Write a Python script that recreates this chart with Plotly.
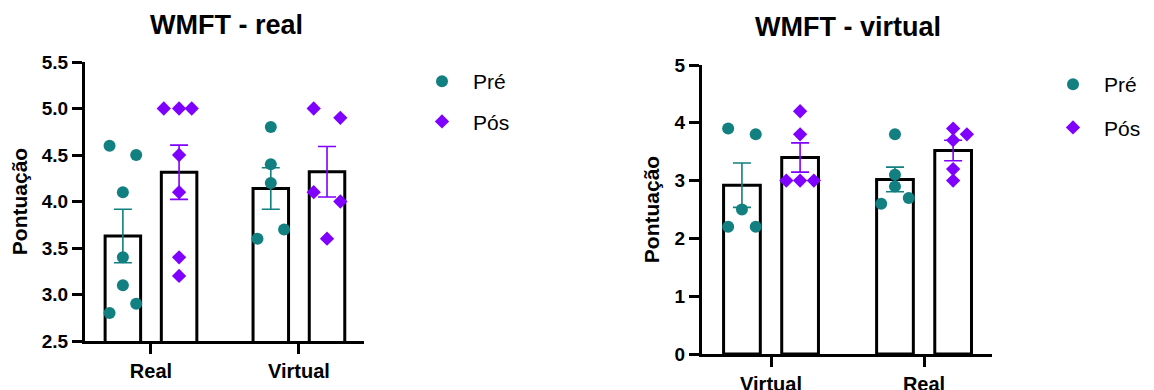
import numpy as np
import plotly.graph_objects as go

# ---------------- data ----------------
left_title = "WMFT - real"
right_title = "WMFT - virtual"
y_label = "Pontuação"
series_names = ["Pré", "Pós"]

left_categories = ["Real", "Virtual"]
left_pre = [[4.6, 4.5, 4.1, 3.4, 3.1, 2.9, 2.8],
            [4.8, 4.4, 4.2, 3.7, 3.6]]
left_pos = [[5.0, 5.0, 5.0, 4.5, 4.1, 3.4, 3.2],
            [5.0, 4.9, 4.1, 4.0, 3.6]]
left_ticks = [2.5, 3.0, 3.5, 4.0, 4.5, 5.0, 5.5]

right_categories = ["Virtual", "Real"]
right_pre = [[3.9, 3.8, 2.5, 2.2, 2.2],
             [3.8, 3.1, 2.9, 2.7, 2.6]]
right_pos = [[4.2, 3.8, 3.0, 3.0, 3.0],
             [3.9, 3.8, 3.7, 3.2, 3.0]]
right_ticks = [0, 1, 2, 3, 4, 5]

# ---------------- styling (jitter of scatter points, in jitter steps) ----------------
left_pre_jit = [[-1, 1, 0, 0, 0, 1, -1], [0, 0, 0, 1, -1]]
left_pos_jit = [[-1.15, 0, 0.95, 0, 0, 0, 0], [-1, 1, -1, 1, 0]]
right_pre_jit = [[-1, 1, 0, -1, 1], [0, 0, 0, 1, -1]]
right_pos_jit = [[0, 0, -1, 0, 1], [0, 1, 0, 0, 0]]

TEAL = "#127f80"
PURPLE = "#7f00ff"
FONT = "Liberation Sans, Arial, sans-serif"
OFF = 0.19
BW = 0.24
JSTEP = 0.09

fig = go.Figure()


def sem(v):
    v = np.asarray(v, dtype=float)
    return float(np.std(v, ddof=1) / np.sqrt(len(v)))


def add_panel(xa, ya, cats, pre, pos, pre_j, pos_j, legend):
    for si, (data, jit, color, sym, msize, off) in enumerate([
        (pre, pre_j, TEAL, "circle", 12, -OFF),
        (pos, pos_j, PURPLE, "diamond", 11, OFF),
    ]):
        xs = [i + off for i in range(len(cats))]
        means = [float(np.mean(d)) for d in data]
        errs = [sem(d) for d in data]
        fig.add_trace(go.Bar(
            x=xs, y=means, width=BW, xaxis=xa, yaxis=ya,
            marker=dict(color="white", line=dict(color="black", width=3)),
            error_y=dict(type="data", array=errs, visible=True, color=color,
                         thickness=1.6, width=9),
            showlegend=False, hoverinfo="skip",
        ))
        px, py = [], []
        for i, d in enumerate(data):
            for v, j in zip(d, jit[i]):
                px.append(i + off + j * JSTEP)
                py.append(v)
        fig.add_trace(go.Scatter(
            x=px, y=py, mode="markers", xaxis=xa, yaxis=ya,
            marker=dict(color=color, symbol=sym, size=msize, line=dict(width=0)),
            name=series_names[si], legend=legend, legendgroup=legend + str(si),
            showlegend=True,
        ))


add_panel("x", "y", left_categories, left_pre, left_pos, left_pre_jit, left_pos_jit, "legend")
add_panel("x2", "y2", right_categories, right_pre, right_pos, right_pre_jit, right_pos_jit, "legend2")

W, H = 1154, 390
O = 8  # page body margin offset


def px_x(x):
    return (x - O) / W


def px_y(y):
    return (H - (y - O)) / H


axis_common = dict(showgrid=False, zeroline=False, showline=True, linecolor="black",
                   linewidth=3, ticks="outside", ticklen=10, tickwidth=3,
                   tickcolor="black", automargin=False)
yfont = dict(family=FONT, size=19, color="black", weight="bold")
xfont = dict(family=FONT, size=20, color="black", weight="bold")
tfont = dict(family=FONT, size=21, color="black", weight="bold")

fig.update_layout(
    width=W, height=H, autosize=False,
    margin=dict(l=0, r=0, t=0, b=0, pad=0),
    paper_bgcolor="white", plot_bgcolor="white",
    barmode="overlay",
    font=dict(family=FONT, color="black"),
    xaxis=dict(domain=[px_x(85), px_x(364)], range=[-0.446, 1.44],
               tickvals=[0, 1], ticktext=left_categories, anchor="y",
               tickfont=xfont, **axis_common),
    yaxis=dict(domain=[px_y(341), px_y(62)], range=[2.5, 5.5],
               tickvals=left_ticks, ticktext=[f"{t:.1f}" for t in left_ticks],
               anchor="x", tickfont=yfont,
               title=dict(text=y_label, standoff=10, font=tfont),
               **axis_common),
    xaxis2=dict(domain=[px_x(702), px_x(992)], range=[-0.451, 1.444],
                tickvals=[0, 1], ticktext=right_categories, anchor="y2",
                tickfont=xfont, **axis_common),
    yaxis2=dict(domain=[px_y(354), px_y(65)], range=[0, 5],
                tickvals=right_ticks, anchor="x2", tickfont=yfont,
                title=dict(text=y_label, standoff=10, font=tfont),
                **axis_common),
    legend=dict(x=px_x(411), y=px_y(61), xanchor="left", yanchor="top",
                font=dict(family=FONT, size=21, color="black"),
                tracegroupgap=10, bgcolor="rgba(0,0,0,0)", itemwidth=52),
    legend2=dict(x=px_x(1042), y=px_y(64), xanchor="left", yanchor="top",
                 font=dict(family=FONT, size=21, color="black"),
                 tracegroupgap=13, bgcolor="rgba(0,0,0,0)", itemwidth=52),
    annotations=[
        dict(text=left_title, x=px_x(226), y=px_y(25), xref="paper", yref="paper",
             showarrow=False, xanchor="center", yanchor="middle",
             font=dict(family=FONT, size=27, color="black", weight="bold")),
        dict(text=right_title, x=px_x(848), y=px_y(27), xref="paper", yref="paper",
             showarrow=False, xanchor="center", yanchor="middle",
             font=dict(family=FONT, size=27, color="black", weight="bold")),
    ],
)

fig.write_html("out.html")
